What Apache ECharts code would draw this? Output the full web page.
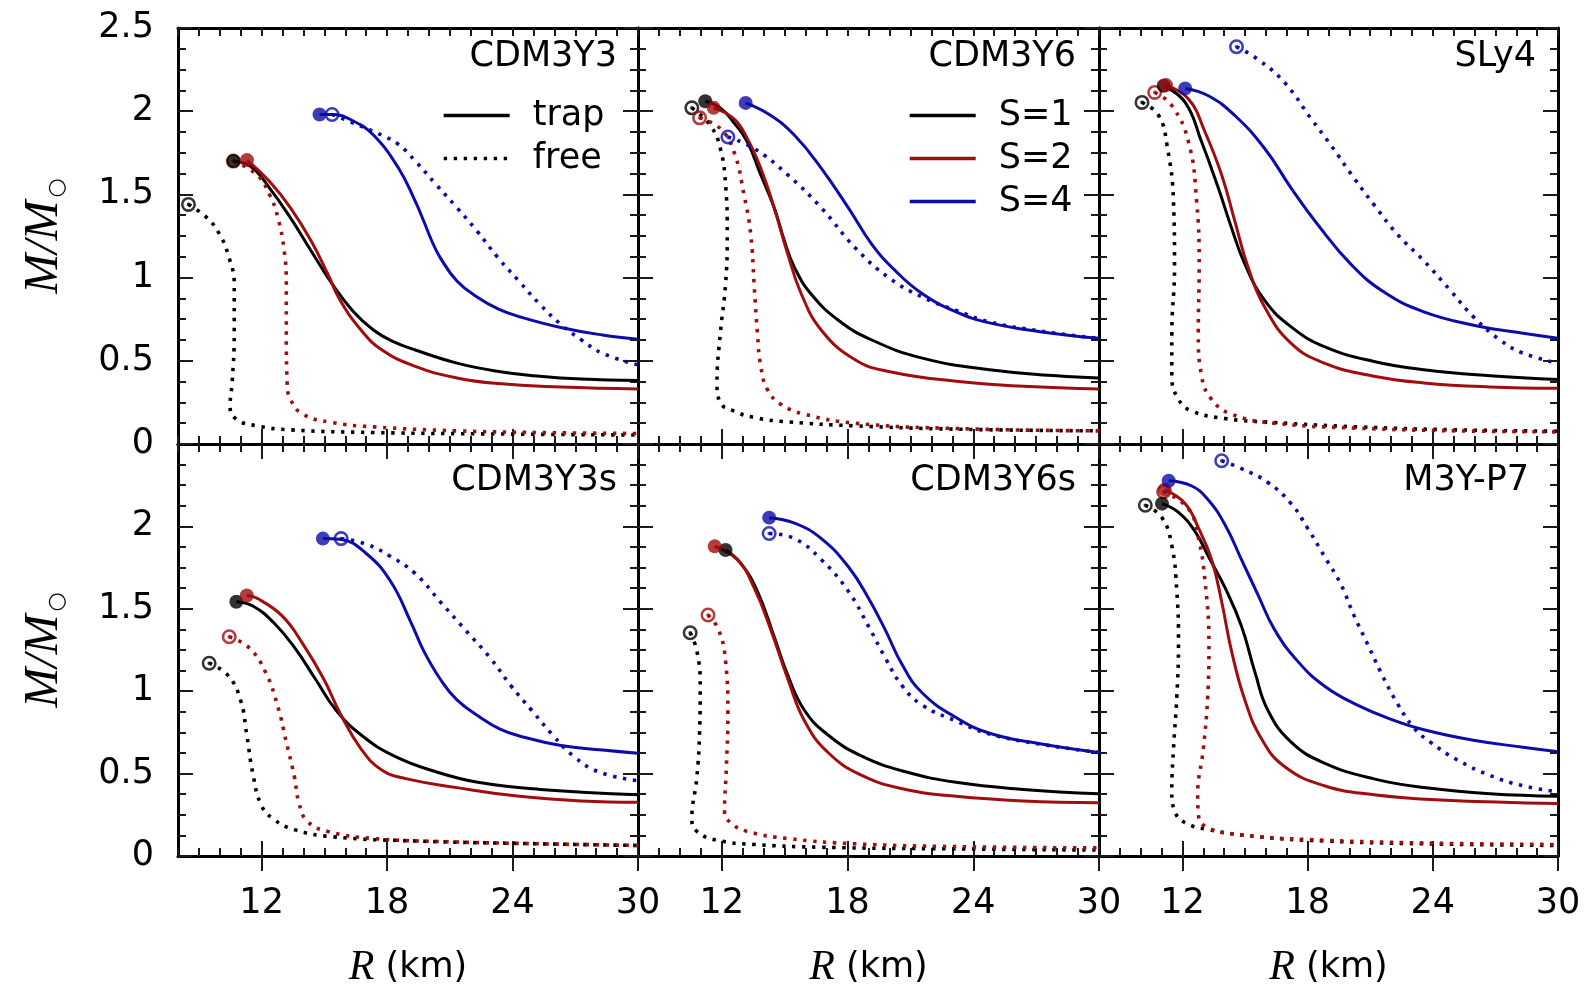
<!DOCTYPE html>
<html>
<head>
<meta charset="utf-8">
<title>Mass-radius relations</title>
<script src="https://cdn.jsdelivr.net/npm/echarts@6/dist/echarts.min.js"></script>
<style>
  html, body { margin: 0; padding: 0; background: #ffffff; }
  #chart { width: 1595px; height: 990px; }
</style>
</head>
<body>
<div id="chart"></div>
<script>
// ---- axes, labels, styling keys ----
const SANS = 'DejaVu Sans';
const SERIF = 'Liberation Serif';
const xMin = 8, xMax = 30;
const yMin = 0, yMax = 2.5;
const xTickLabels = [12, 18, 24, 30];
const yTickStep = 0.5;
const panelNames = ['CDM3Y3', 'CDM3Y6', 'SLy4', 'CDM3Y3s', 'CDM3Y6s', 'M3Y-P7'];
const modeLabels = ['trap', 'free'];
const spinLabels = ['S=1', 'S=2', 'S=4'];
const spinColors = ['#000000', '#a00d0d', '#0c0ca8'];

// ---- M(R) curves, [R (km), M/Msun]; first point is the maximum-mass star ----
// CDM3Y3
const cdm3y3_s1_trap = [[10.65,1.70],[11.48,1.667],[12.38,1.538],[13.38,1.359],[14.37,1.16],[15.37,0.962],[16.36,0.80],[17.36,0.684],[18.3,0.615],[19.35,0.565],[21.34,0.486],[23.33,0.436],[25.3,0.407],[27.3,0.39],[30,0.381]];
const cdm3y3_s1_free = [[8.5,1.44],[9.39,1.359],[9.99,1.26],[10.39,1.14],[10.69,0.962],[10.69,0.665],[10.59,0.367],[10.49,0.228],[10.79,0.149],[11.78,0.109],[13.38,0.085],[17.36,0.069],[23.33,0.06],[30,0.054]];
const cdm3y3_s2_trap = [[11.3,1.706],[12.38,1.577],[13.38,1.419],[14.37,1.22],[15.17,1.02],[15.76,0.863],[16.76,0.684],[17.76,0.565],[19.35,0.466],[21.34,0.397],[23.33,0.363],[26.3,0.343],[30,0.331]];
const cdm3y3_s2_free = [[10.65,1.70],[11.78,1.617],[12.38,1.498],[12.78,1.359],[13.08,1.16],[13.18,0.962],[13.18,0.665],[13.22,0.367],[13.38,0.268],[13.97,0.179],[15.37,0.129],[17.36,0.103],[21.34,0.079],[25.3,0.069],[30,0.063]];
const cdm3y3_s4_trap = [[14.77,1.98],[15.37,1.98],[16.4,1.94],[17.36,1.855],[18.55,1.657],[19.35,1.458],[19.75,1.34],[20.14,1.22],[20.54,1.12],[21.34,0.98],[22.34,0.88],[23.33,0.81],[24.33,0.765],[26.3,0.70],[28.3,0.655],[30,0.63]];
const cdm3y3_s4_free = [[15.37,1.98],[16.36,1.93],[17.76,1.855],[18.55,1.80],[19.35,1.70],[20.34,1.56],[21.34,1.42],[22.3,1.28],[23.3,1.12],[24.3,0.98],[25.3,0.84],[26.3,0.72],[27.3,0.625],[28.3,0.545],[30,0.476]];
// CDM3Y6
const cdm3y6_s1_trap = [[11.21,2.06],[11.93,2.02],[12.58,1.93],[13.22,1.815],[13.86,1.617],[14.5,1.419],[14.99,1.22],[15.47,1.06],[16.27,0.90],[17.56,0.744],[19.16,0.625],[21.57,0.516],[24.78,0.446],[27.99,0.41],[30,0.397]];
const cdm3y6_s1_free = [[10.57,2.02],[11.45,1.915],[11.93,1.776],[12.18,1.557],[12.26,1.26],[12.18,0.962],[11.93,0.665],[11.77,0.367],[11.93,0.248],[12.58,0.198],[13.54,0.159],[15.15,0.133],[18.36,0.109],[23.18,0.089],[30,0.079]];
const cdm3y6_s2_trap = [[11.61,2.02],[12.58,1.954],[13.22,1.835],[13.86,1.657],[14.5,1.419],[15.15,1.14],[15.79,0.903],[16.75,0.684],[18.36,0.506],[19.96,0.436],[23.18,0.377],[26.39,0.347],[30,0.331]];
const cdm3y6_s2_free = [[10.94,1.96],[11.93,1.895],[12.58,1.756],[13.06,1.498],[13.38,1.26],[13.54,0.962],[13.70,0.665],[13.86,0.466],[14.18,0.327],[14.83,0.238],[15.95,0.179],[18.36,0.125],[23.18,0.093],[30,0.079]];
const cdm3y6_s4_trap = [[13.14,2.05],[14.34,1.974],[15.47,1.855],[16.75,1.657],[18.04,1.419],[19.16,1.20],[20.29,1.04],[21.57,0.903],[23.18,0.794],[24.78,0.728],[27.19,0.675],[30,0.635]];
const cdm3y6_s4_free = [[12.29,1.845],[13.54,1.776],[15.15,1.617],[16.75,1.419],[18.36,1.18],[19.96,1.00],[21.57,0.883],[23.18,0.803],[24.78,0.734],[27.19,0.679],[30,0.635]];
// SLy4
const sly4_s1_trap = [[11.1,2.153],[12.13,2.053],[12.92,1.815],[13.72,1.538],[14.35,1.30],[14.99,1.081],[15.94,0.863],[17.21,0.704],[18.8,0.585],[21.18,0.496],[23.57,0.446],[26.74,0.41],[30,0.387]];
const sly4_s1_free = [[10.06,2.053],[10.86,1.974],[11.26,1.795],[11.57,1.458],[11.62,1.061],[11.49,0.665],[11.49,0.407],[11.81,0.268],[12.45,0.198],[14.04,0.153],[16.42,0.129],[20.39,0.103],[25.15,0.085],[30,0.077]];
const sly4_s2_trap = [[11.21,2.157],[12.29,2.073],[13.08,1.875],[13.88,1.617],[14.51,1.339],[15.15,1.06],[15.94,0.823],[17.21,0.605],[18.8,0.486],[21.18,0.407],[23.57,0.367],[26.74,0.343],[30,0.335]];
const sly4_s2_free = [[10.67,2.113],[11.49,2.034],[12.29,1.815],[12.68,1.458],[12.80,1.061],[12.76,0.665],[12.92,0.407],[13.40,0.268],[14.35,0.179],[16.42,0.125],[20.39,0.095],[25.15,0.079],[30,0.073]];
const sly4_s4_trap = [[12.13,2.137],[13.24,2.093],[14.51,1.974],[15.94,1.776],[17.21,1.538],[18.48,1.319],[20.07,1.081],[21.66,0.913],[23.57,0.794],[25.95,0.714],[28.33,0.665],[30,0.635]];
const sly4_s4_free = [[14.59,2.387],[15.62,2.311],[16.89,2.173],[18.17,1.954],[19.12,1.795],[20.23,1.597],[21.18,1.438],[22.3,1.26],[23.57,1.101],[24.84,0.923],[25.95,0.764],[27.22,0.625],[28.33,0.546],[30,0.486]];
// CDM3Y3s
const cdm3y3s_s1_trap = [[10.79,1.543],[11.58,1.517],[12.58,1.415],[13.57,1.266],[14.57,1.074],[15.57,0.883],[16.76,0.734],[18.35,0.606],[20.34,0.511],[22.34,0.447],[25.32,0.404],[30,0.372]];
const cdm3y3s_s1_free = [[9.49,1.17],[10.39,1.096],[10.99,0.947],[11.29,0.734],[11.58,0.5],[11.98,0.309],[12.58,0.223],[13.57,0.16],[15.37,0.117],[19.35,0.091],[25.32,0.074],[30,0.064]];
const cdm3y3s_s2_trap = [[11.29,1.581],[11.78,1.564],[12.98,1.457],[13.97,1.287],[14.97,1.074],[15.77,0.862],[16.76,0.649],[17.76,0.521],[18.95,0.468],[21.34,0.415],[24.33,0.362],[27.31,0.334],[30,0.326]];
const cdm3y3s_s2_free = [[10.45,1.33],[11.38,1.266],[12.18,1.117],[12.78,0.904],[13.18,0.691],[13.57,0.479],[13.77,0.33],[14.17,0.213],[15.17,0.149],[17.36,0.106],[21.34,0.085],[25.32,0.074],[30,0.064]];
const cdm3y3s_s4_trap = [[14.93,1.926],[15.8,1.92],[16.96,1.84],[18.15,1.67],[19.15,1.415],[19.75,1.245],[20.54,1.074],[21.34,0.947],[22.53,0.835],[23.4,0.77],[24.33,0.728],[26.32,0.67],[28.31,0.643],[30,0.623]];
const cdm3y3s_s4_free = [[15.80,1.926],[16.96,1.894],[18.15,1.819],[19.35,1.713],[20.54,1.543],[21.74,1.372],[22.93,1.202],[23.93,1.032],[24.92,0.883],[25.92,0.734],[26.91,0.606],[28.11,0.511],[30,0.457]];
// CDM3Y6s
const cdm3y6s_s1_trap = [[12.18,1.857],[12.9,1.777],[13.7,1.606],[14.5,1.33],[15.15,1.096],[15.95,0.883],[17.07,0.734],[18.68,0.606],[20.77,0.511],[23.18,0.447],[26.39,0.404],[30,0.377]];
const cdm3y6s_s1_free = [[10.49,1.355],[10.81,1.245],[10.97,1.032],[10.94,0.755],[10.81,0.479],[10.57,0.223],[10.81,0.149],[11.77,0.096],[13.54,0.07],[16.75,0.053],[23.18,0.043],[30,0.036]];
const cdm3y6s_s2_trap = [[11.66,1.879],[12.74,1.798],[13.54,1.628],[14.34,1.372],[15.15,1.074],[15.95,0.819],[17.07,0.628],[18.68,0.489],[20.77,0.404],[23.18,0.362],[26.39,0.334],[30,0.323]];
const cdm3y6s_s2_free = [[11.34,1.462],[11.85,1.372],[12.18,1.181],[12.29,0.862],[12.22,0.543],[12.13,0.266],[12.42,0.202],[13.22,0.149],[15.15,0.106],[18.36,0.074],[23.18,0.057],[30,0.049]];
const cdm3y6s_s4_trap = [[14.26,2.053],[15.47,2.02],[16.75,1.926],[18.04,1.755],[19.0,1.564],[19.8,1.372],[20.61,1.16],[21.57,0.989],[23.18,0.84],[24.78,0.745],[27.19,0.681],[30,0.628]];
const cdm3y6s_s4_free = [[14.26,1.957],[15.47,1.926],[16.75,1.798],[18.04,1.606],[19.0,1.394],[19.8,1.202],[20.61,1.032],[21.57,0.915],[23.18,0.819],[24.78,0.74],[27.19,0.679],[30,0.628]];
// M3Y-P7
const m3yp7_s1_trap = [[11.02,2.138],[11.81,2.085],[12.61,1.968],[13.24,1.819],[14.04,1.628],[14.83,1.394],[15.47,1.117],[16.1,0.883],[17.21,0.691],[18.8,0.564],[21.18,0.468],[23.57,0.415],[26.74,0.377],[30,0.362]];
const m3yp7_s1_free = [[10.22,2.128],[11.02,2.053],[11.49,1.883],[11.73,1.606],[11.81,1.287],[11.73,0.968],[11.57,0.649],[11.49,0.394],[11.65,0.266],[12.13,0.202],[13.24,0.16],[15.62,0.117],[18.8,0.091],[23.57,0.074],[30,0.064]];
const m3yp7_s2_trap = [[11.15,2.223],[12.13,2.138],[12.77,1.989],[13.4,1.798],[13.88,1.543],[14.35,1.245],[14.99,0.947],[15.78,0.713],[16.89,0.543],[18.8,0.426],[21.18,0.372],[24.36,0.34],[30,0.319]];
const m3yp7_s2_free = [[11.1,2.21],[12.29,2.106],[12.77,1.926],[13.08,1.67],[13.27,1.287],[13.21,0.968],[13.0,0.649],[12.73,0.372],[12.77,0.245],[13.24,0.17],[14.83,0.128],[18.0,0.1],[23.57,0.079],[30,0.07]];
const m3yp7_s4_trap = [[11.34,2.277],[12.45,2.245],[13.24,2.16],[14.04,2.01],[14.83,1.798],[15.62,1.585],[16.42,1.372],[17.53,1.181],[18.8,1.032],[20.39,0.915],[21.98,0.83],[23.57,0.766],[25.95,0.702],[28.33,0.66],[30,0.632]];
const m3yp7_s4_free = [[13.88,2.398],[14.83,2.351],[16.1,2.266],[17.21,2.138],[18.0,1.989],[18.8,1.819],[19.59,1.649],[20.23,1.457],[20.87,1.287],[21.5,1.117],[22.3,0.926],[23.1,0.777],[23.88,0.691],[25.15,0.585],[26.74,0.489],[28.33,0.426],[30,0.389]];

// panel -> spin -> [trap, free]
const panelCurves = [
  [[cdm3y3_s1_trap, cdm3y3_s1_free], [cdm3y3_s2_trap, cdm3y3_s2_free], [cdm3y3_s4_trap, cdm3y3_s4_free]],
  [[cdm3y6_s1_trap, cdm3y6_s1_free], [cdm3y6_s2_trap, cdm3y6_s2_free], [cdm3y6_s4_trap, cdm3y6_s4_free]],
  [[sly4_s1_trap, sly4_s1_free], [sly4_s2_trap, sly4_s2_free], [sly4_s4_trap, sly4_s4_free]],
  [[cdm3y3s_s1_trap, cdm3y3s_s1_free], [cdm3y3s_s2_trap, cdm3y3s_s2_free], [cdm3y3s_s4_trap, cdm3y3s_s4_free]],
  [[cdm3y6s_s1_trap, cdm3y6s_s1_free], [cdm3y6s_s2_trap, cdm3y6s_s2_free], [cdm3y6s_s4_trap, cdm3y6s_s4_free]],
  [[m3yp7_s1_trap, m3yp7_s1_free], [m3yp7_s2_trap, m3yp7_s2_free], [m3yp7_s4_trap, m3yp7_s4_free]]
];

// ---- layout ----
const colLeft = [178, 638, 1099];
const colWidth = [460, 461, 459];
const rowTop = [28, 444];
const rowHeight = [416, 415];
const titleRight = [978, 519, 59, 978, 519, 66];
const titleTop = [39, 463];

const SOLID_W = 3;
const DOT_W = 3.6;
const DOTTED = [3.4, 6.6];
const OPEN_MARK = 'path://M0,-10A10,10,0,1,1,0,10A10,10,0,1,1,0,-10ZM0,-6.6A6.6,6.6,0,1,0,0,6.6A6.6,6.6,0,1,0,0,-6.6ZM0,-2.4A2.4,2.4,0,1,1,0,2.4A2.4,2.4,0,1,1,0,-2.4Z';
const tickLine = { color: '#1a1a1a', width: 2 };
const frameLine = { color: '#000000', width: 3 };

const grids = [], xAxes = [], yAxes = [], titles = [], series = [];

panelNames.forEach((name, i) => {
  const row = Math.floor(i / 3), col = i % 3;
  grids.push({ left: colLeft[col], top: rowTop[row], width: colWidth[col], height: rowHeight[row], show: false });

  titles.push({
    text: name, right: titleRight[i], top: titleTop[row], padding: 0,
    textStyle: { fontFamily: SANS, fontSize: 35, fontWeight: 'normal', color: '#000' }
  });

  // x axes: 1 km ticks and 6 km ticks, bottom and top
  ['bottom', 'top'].forEach(pos => {
    xAxes.push({
      gridIndex: i, type: 'value', position: pos, min: xMin, max: xMax, interval: 1,
      axisLine: { show: true, onZero: false, lineStyle: frameLine },
      axisTick: { show: true, inside: true, length: 8, lineStyle: tickLine },
      axisLabel: { show: false }, splitLine: { show: false }
    });
    const labelled = pos === 'bottom' && row === 1;
    xAxes.push({
      gridIndex: i, type: 'value', position: pos, min: xMin, max: xMax,
      axisLine: { show: false },
      axisTick: { show: true, inside: true, length: 15, customValues: xTickLabels, lineStyle: tickLine },
      axisLabel: labelled
        ? { show: true, customValues: xTickLabels, fontFamily: SANS, fontSize: 35, color: '#000', margin: 30 }
        : { show: false },
      splitLine: { show: false },
      name: labelled ? '{r|R} {n|(km)}' : '',
      nameLocation: 'middle', nameGap: 91,
      nameTextStyle: {
        color: '#000', fontFamily: SANS, fontSize: 35,
        rich: {
          r: { fontFamily: SERIF, fontStyle: 'italic', fontSize: 42, color: '#000' },
          n: { fontFamily: SANS, fontSize: 35, color: '#000' }
        }
      }
    });
  });

  // y axes: left and right
  ['left', 'right'].forEach(pos => {
    const labelled = pos === 'left' && col === 0;
    yAxes.push({
      gridIndex: i, type: 'value', position: pos, min: yMin, max: yMax, interval: yTickStep,
      axisLine: { show: true, onZero: false, lineStyle: frameLine },
      axisTick: { show: true, inside: true, length: 15, lineStyle: tickLine },
      minorTick: { show: true, splitNumber: 4, length: 8, lineStyle: tickLine },
      axisLabel: labelled
        ? { show: true, fontFamily: SANS, fontSize: 35, color: '#000', margin: 24,
            formatter: v => (row === 1 && v === yMax) ? '' : String(v) }
        : { show: false },
      splitLine: { show: false }, minorSplitLine: { show: false },
      name: labelled ? '{m|M/M}{s|○}' : '',
      nameLocation: 'middle', nameRotate: 90, nameGap: 110,
      nameTextStyle: {
        color: '#000',
        rich: {
          m: { fontFamily: SERIF, fontStyle: 'italic', fontSize: 48, color: '#000' },
          s: { fontFamily: SANS, fontSize: 22, color: '#000', padding: [26, 0, 0, 3] }
        }
      }
    });
  });

  // curves
  panelCurves[i].forEach((pair, s) => {
    pair.forEach((curve, m) => {
      series.push({
        type: 'line', xAxisIndex: 4 * i, yAxisIndex: 2 * i,
        data: curve, smooth: 0.45, symbol: 'none', silent: true,
        lineStyle: { color: spinColors[s], width: m === 0 ? SOLID_W : DOT_W, type: m === 0 ? 'solid' : DOTTED, cap: 'butt' },
        z: 2
      });
    });
  });

  // maximum-mass markers: filled for trapped, open for free-streaming
  series.push({
    type: 'scatter', xAxisIndex: 4 * i, yAxisIndex: 2 * i, silent: true, z: 4,
    symbol: OPEN_MARK, symbolSize: 15,
    data: panelCurves[i].map((pair, s) => ({ value: pair[1][0], itemStyle: { color: spinColors[s] } }))
  });
  series.push({
    type: 'scatter', xAxisIndex: 4 * i, yAxisIndex: 2 * i, silent: true, z: 5,
    symbol: 'circle', symbolSize: 14,
    data: panelCurves[i].map((pair, s) => ({ value: pair[0][0], itemStyle: { color: spinColors[s] } }))
  });
});

// legend entries (no data of their own)
modeLabels.forEach((label, m) => {
  series.push({
    name: label, type: 'line', xAxisIndex: 0, yAxisIndex: 0, data: [], symbol: 'none',
    itemStyle: { color: '#000' },
    lineStyle: { color: '#000', width: m === 0 ? SOLID_W : DOT_W, type: m === 0 ? 'solid' : DOTTED }
  });
});
spinLabels.forEach((label, s) => {
  series.push({
    name: label, type: 'line', xAxisIndex: 4, yAxisIndex: 2, data: [], symbol: 'none',
    itemStyle: { color: spinColors[s] },
    lineStyle: { color: spinColors[s], width: SOLID_W }
  });
});

const legendText = { fontFamily: SANS, fontSize: 35, color: '#000', padding: [0, 0, 0, 18] };
const legendBase = {
  orient: 'vertical', top: 98, itemWidth: 66, itemHeight: 14, itemGap: 8,
  selectedMode: false, padding: 0, textStyle: legendText,
  itemStyle: { opacity: 0, borderWidth: 0 },
  lineStyle: { width: 3.4 }
};

const chart = echarts.init(document.getElementById('chart'), null, { renderer: 'canvas' });
chart.setOption({
  animation: false,
  backgroundColor: '#ffffff',
  title: titles,
  grid: grids,
  xAxis: xAxes,
  yAxis: yAxes,
  legend: [
    Object.assign({ data: modeLabels, left: 442 }, legendBase),
    Object.assign({ data: spinLabels, left: 908 }, legendBase)
  ],
  series: series
});
</script>
</body>
</html>
